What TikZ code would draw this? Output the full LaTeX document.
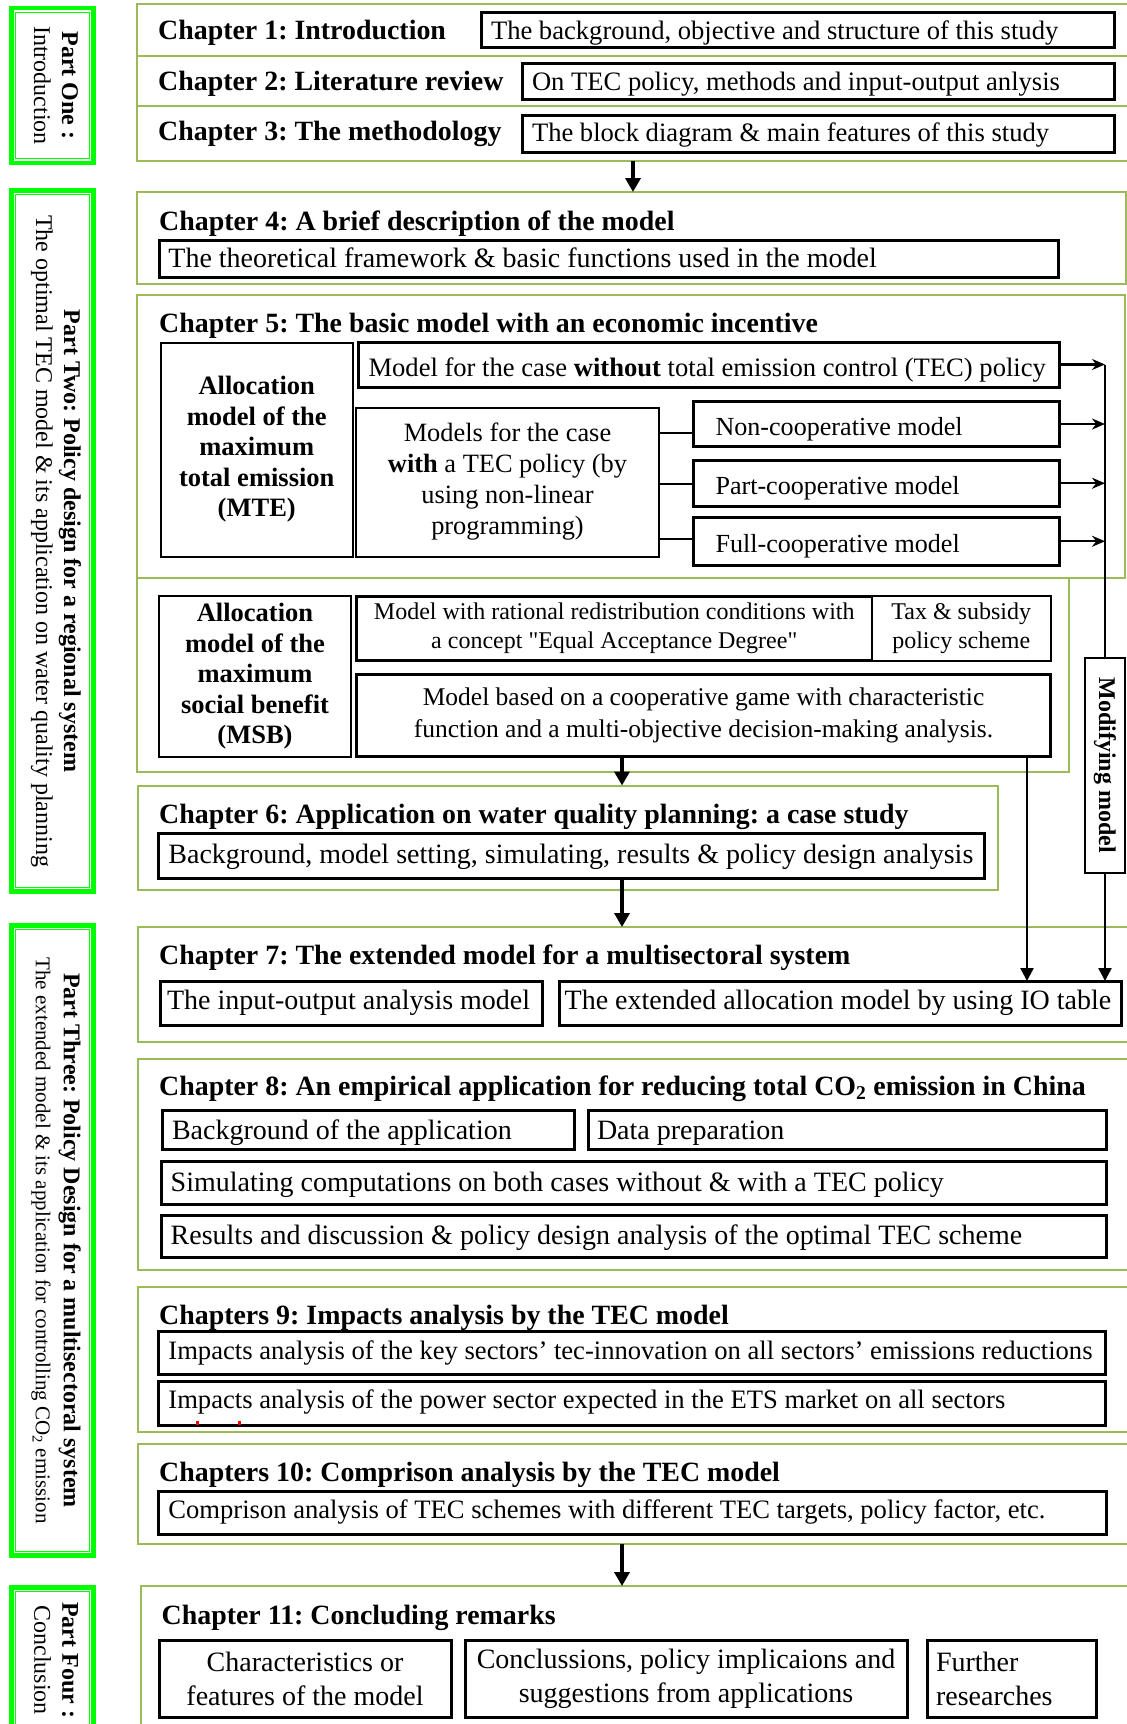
\documentclass[tikz,border=0pt]{standalone}
\usepackage{fontspec}
\usepackage{graphicx}
\setmainfont{Liberation Serif}
\usetikzlibrary{arrows.meta}
\definecolor{framegreen}{RGB}{155,187,89}
\definecolor{partgreen}{RGB}{0,255,0}
\frenchspacing
\newcommand\fzBody{\fontsize{28}{33}\selectfont}
\newcommand\fzBodyS{\fontsize{26.6}{31}\selectfont}
\newcommand\fzCoop{\fontsize{26.1}{31}\selectfont}
\newcommand\fzHead{\fontsize{27.9}{32}\selectfont\bfseries}
\newcommand\fzAlloc{\fontsize{26.5}{30.5}\selectfont\bfseries}
\newcommand\fzSmall{\fontsize{24}{29}\selectfont}
\newcommand\fzPart{\fontsize{24}{28}\selectfont}
\newcommand\fzPartS{\fontsize{21}{26}\selectfont}
% width, left pad, strut height (= 2 x baseline offset below centre), text
\newcommand\lineL[4]{\hbox to #1pt{\hspace*{#2pt}\smash{#4}\rule{0pt}{#3pt}\hfil}}
\begin{document}
\begin{tikzpicture}[x=1pt,y=-1pt,
  frame/.style={draw=framegreen, line width=2pt, inner sep=0pt, outer sep=0pt},
  box/.style={draw=black, line width=3pt, inner sep=0pt, outer sep=0pt, fill=white},
  tbox/.style={draw=black, line width=2pt, inner sep=0pt, outer sep=0pt, fill=white},
  partout/.style={draw=partgreen, line width=4.5pt, inner sep=0pt, outer sep=0pt},
  partin/.style={draw=partgreen, line width=1pt},
  parttext/.style={rotate=-90, align=center, font=\fzPart, inner sep=0pt},
  head/.style={font=\fzHead, inner sep=0pt, anchor=base west},
  bigarrow/.style={line width=3.5pt, -{Triangle[length=14pt,width=15pt]}},
  thinarrow/.style={line width=2.4pt, -{Triangle[length=13pt,width=13pt]}},
  sarrow/.style={line width=2.4pt, -{Stealth[length=13pt,width=11pt]}},
  link/.style={line width=2.4pt}]
\useasboundingbox (0,0) rectangle (1127,1724);
\fill[white] (0,0) rectangle (1127,1724);
\clip (0,0) rectangle (1127,1724);

% ---------- chapter frames ----------
\node[frame, minimum width=998, minimum height=52] (f1) at (636,30) {};
\node[frame, minimum width=998, minimum height=50] (f2) at (636,81) {};
\node[frame, minimum width=998, minimum height=55] (f3) at (636,133.5) {};
\node[frame, minimum width=989, minimum height=92] (f4) at (631.5,238) {};
\node[frame, minimum width=988, minimum height=283] (f5) at (631,436.5) {};
\node[frame, minimum width=932, minimum height=194] (fm) at (603,675) {};
\node[frame, minimum width=860, minimum height=104] (f6) at (568,837.5) {};
\node[frame, minimum width=997, minimum height=114.5] (f7) at (636.5,984.25) {};
\node[frame, minimum width=997, minimum height=211.5] (f8) at (636.5,1164.25) {};
\node[frame, minimum width=997, minimum height=145] (f9) at (636.5,1359) {};
\node[frame, minimum width=997, minimum height=100] (f10) at (636.5,1494) {};
\node[frame, minimum width=994.5, minimum height=174] (f11) at (637.75,1673) {};

% ---------- part boxes ----------
\node[partout, minimum width=82.2, minimum height=155] (p1o) at (52.6,85.5) {};
\node[partout, minimum width=82.2, minimum height=701.4] (p2o) at (52.6,541) {};
\node[partout, minimum width=82.2, minimum height=630.4] (p3o) at (52.6,1240.5) {};
\node[partout, minimum width=82.2, minimum height=172.7] (p4o) at (52.6,1673.65) {};
\foreach \p in {p1o,p2o,p3o,p4o}{
  \draw[partin] ([shift={(4.2,4.5)}]\p.north west) rectangle ([shift={(-4.2,-4.5)}]\p.south east);
}
\node[parttext] (pt1) at (56,85.5) {\textbf{Part One :}\\Introduction};
\node[parttext] (pt2) at (56,541) {\textbf{Part Two: Policy design for a regional system}\\The optimal TEC model \& its application on water quality planning};
\node[parttext] (pt3) at (56,1240.5) {\textbf{Part Three: Policy Design for a multisectoral system}\\{\fzPartS The extended model \& its application for controlling CO\textsubscript{2} emission}};
\node[parttext] (pt4) at (56,1660) {\textbf{Part Four :}\\Conclusion};

% ---------- chapters 1-3 ----------
\node[head] (h1) at (158,39.3) {Chapter 1: Introduction};
\node[head] (h2) at (158,90.7) {Chapter 2: Literature review};
\node[head] (h3) at (158,140.7) {Chapter 3: The methodology};
\node[box, minimum height=35, font=\fzBodyS] (b1) at (797.75,29.5) {\lineL{632.5}{9.5}{20.6}{The background, objective and structure of this study}};
\node[box, minimum height=36, font=\fzBodyS] (b2) at (818,81) {\lineL{592}{10}{19.2}{On TEC policy, methods and input-output anlysis}};
\node[box, minimum height=37, font=\fzBodyS] (b3) at (818,133.5) {\lineL{592}{10}{16.8}{The block diagram \& main features of this study}};

% ---------- chapter 4 ----------
\node[head] (h4) at (159,230) {Chapter 4: A brief description of the model};
\node[box, minimum height=37, font=\fzBody] (c4b) at (608.5,258.5) {\lineL{899}{9.4}{17}{The theoretical framework \& basic functions used in the model}};

% ---------- chapter 5 ----------
\node[head] (h5) at (159,332.7) {Chapter 5: The basic model with an economic incentive};
\node[tbox, minimum width=191.5, minimum height=214, align=center, font=\fzAlloc] (mte) at (256.75,449.5) {Allocation\\model of the\\maximum\\total emission\\(MTE)};
\node[box, minimum height=45, font=\fzBodyS] (wo) at (708.5,364.5) {\lineL{701}{10.5}{24}{Model for the case \textbf{without} total emission control (TEC) policy}};
\node[tbox, minimum width=303, minimum height=149, align=center, font=\fontsize{26.4}{31}\selectfont] (models) at (507.5,482) {Models for the case\\\textbf{with} a TEC policy (by\\using non-linear\\programming)};
\node[box, minimum height=45, font=\fzCoop] (nc) at (876.25,424) {\lineL{365.5}{22}{22}{Non-cooperative model}};
\node[box, minimum height=46.5, font=\fzCoop] (pc) at (876.25,483.25) {\lineL{365.5}{22}{21.6}{Part-cooperative model}};
\node[box, minimum height=47.5, font=\fzCoop] (fc) at (876.25,541.25) {\lineL{365.5}{22}{23}{Full-cooperative model}};

% ---------- MSB part ----------
\node[tbox, minimum width=192, minimum height=160.5, align=center, font=\fzAlloc] (msb) at (255,676.25) {Allocation\\model of the\\maximum\\social benefit\\(MSB)};
\node[box, minimum width=515.5, minimum height=64.5, align=center, font=\fzSmall] (eqa) at (614.25,628.25) {Model with rational redistribution conditions with\\a concept \textquotedbl Equal Acceptance Degree\textquotedbl};
\node[tbox, minimum width=178.5, minimum height=64.5, align=center, font=\fzSmall] (tax) at (961.25,628.25) {Tax \& subsidy\\policy scheme};
\node[box, minimum width=694, minimum height=82, align=center, font=\fontsize{25.5}{32}\selectfont] (coop) at (703.5,715) {Model based on a cooperative game with characteristic\\function and a multi-objective decision-making analysis.};
\node[tbox, minimum width=40, minimum height=215.5] (mod) at (1105,765.25) {\rotatebox{-90}{\fontsize{24}{28}\selectfont\bfseries Modifying model}};

% ---------- chapter 6 ----------
\node[head] (h6) at (159,823.3) {Chapter 6: Application on water quality planning: a case study};
\node[box, minimum height=45, font=\fzBody] (c6b) at (571,856) {\lineL{826}{10.4}{15}{Background, model setting, simulating, results \& policy design analysis}};

% ---------- chapter 7 ----------
\node[head] (h7) at (159,964) {Chapter 7: The extended model for a multisectoral system};
\node[box, minimum height=44.5, font=\fzBody] (io1) at (351.5,1003.25) {\lineL{382}{6.5}{13}{The input-output analysis model}};
\node[box, minimum height=44.5, font=\fzBody] (io2) at (840.5,1003.25) {\lineL{562}{5.2}{13}{The extended allocation model by using IO table}};

% ---------- chapter 8 ----------
\node[head] (h8) at (159,1095) {Chapter 8: An empirical application for reducing total CO\textsubscript{2} emission in China};
\node[box, minimum height=38.5, font=\fzBody] (bg) at (368,1129.75) {\lineL{412}{10}{19.6}{Background of the application}};
\node[box, minimum height=38.5, font=\fzBody] (dp) at (847,1129.75) {\lineL{518}{9}{19.6}{Data preparation}};
\node[box, minimum height=42.5, font=\fzBody] (sim) at (633.5,1182.75) {\lineL{945}{9.7}{17}{Simulating computations on both cases without \& with a TEC policy}};
\node[box, minimum height=42, font=\fzBody] (res) at (633.5,1236.5) {\lineL{945}{9.7}{15}{Results and discussion \& policy design analysis of the optimal TEC scheme}};

% ---------- chapter 9 ----------
\node[head] (h9) at (159,1324) {Chapters 9: Impacts analysis by the TEC model};
\node[box, minimum height=43, font=\fzBodyS] (i1) at (631.75,1352.5) {\lineL{946.5}{9.9}{14}{Impacts analysis of the key sectors’ tec-innovation on all sectors’ emissions reductions}};
\node[box, minimum height=43.5, font=\fzBodyS] (i2) at (631.75,1403.25) {\lineL{946.5}{9.9}{10}{Impacts analysis of the power sector expected in the ETS market on all sectors}};
\fill[red] (196,1420.5) rectangle (198.5,1424.5);
\fill[red] (238,1420.5) rectangle (240.5,1424.5);

% ---------- chapter 10 ----------
\node[head] (h10) at (159,1481) {Chapters 10: Comprison analysis by the TEC model};
\node[box, minimum height=42.5, font=\fzBodyS] (cmp) at (632.4,1512.75) {\lineL{947.2}{9.6}{12}{Comprison analysis of TEC schemes with different TEC targets, policy factor, etc.}};

% ---------- chapter 11 ----------
\node[head] (h11) at (161.5,1624) {Chapter 11: Concluding remarks};
\node[box, minimum width=292, minimum height=77, align=center, font=\fontsize{28}{34}\selectfont] (k1) at (305,1678.5) {Characteristics or\\features of the model};
\node[box, minimum width=442, minimum height=77, align=center, font=\fontsize{28}{34}\selectfont] (k2) at (686,1678.5) {Conclussions, policy implicaions and\\suggestions from applications};
\node[box, minimum width=169.5, minimum height=77, text width=151.5pt, align=left, font=\fontsize{28}{34}\selectfont] (k3) at (1011.75,1678.5) {Further\\researches};

% ---------- connectors ----------
\coordinate (x1) at (633,0);
\coordinate (x2) at (622,0);
\coordinate (x3) at (1027,0);
\coordinate (vx) at (1105,0);
\coordinate (y1) at (0,433);
\coordinate (y2) at (0,484);
\coordinate (y3) at (0,539);

\draw[bigarrow] (f3.south -| x1) -- (f4.north -| x1);
\draw[bigarrow] (coop.south -| x2) -- (f6.north -| x2);
\draw[bigarrow] (c6b.south -| x2) -- (f7.north -| x2);
\draw[bigarrow] (f10.south -| x2) -- (f11.north -| x2);

\draw[link] (models.east |- y1) -- (nc.west |- y1);
\draw[link] (models.east |- y2) -- (pc.west |- y2);
\draw[link] (models.east |- y3) -- (fc.west |- y3);

\draw[sarrow] (wo.east) -- (wo.east -| vx);
\draw[sarrow] (nc.east) -- (nc.east -| vx);
\draw[sarrow] (pc.east) -- (pc.east -| vx);
\draw[sarrow] (fc.east) -- (fc.east -| vx);
\draw[link] (wo.east -| vx) -- (mod.north);
\draw[thinarrow] (mod.south) -- (io2.north -| mod.south);
\draw[thinarrow] (coop.south -| x3) -- (io2.north -| x3);
\end{tikzpicture}
\end{document}
